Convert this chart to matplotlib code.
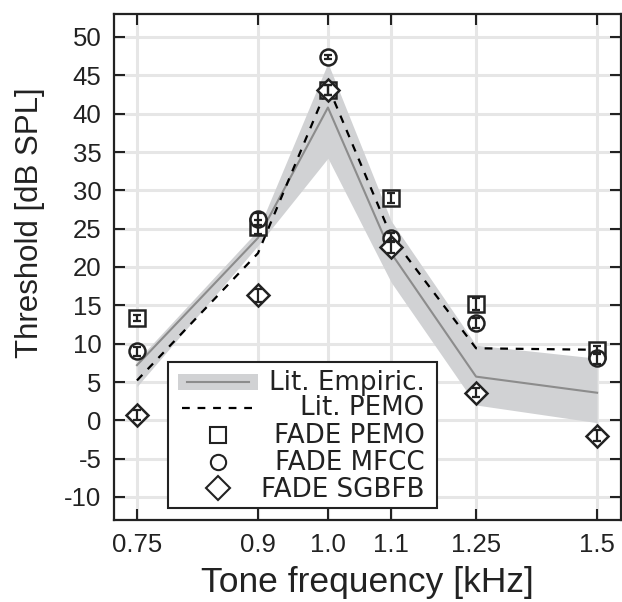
import matplotlib
matplotlib.use("Agg")
import matplotlib.pyplot as plt
from matplotlib.lines import Line2D
from matplotlib.patches import Rectangle
from matplotlib.ticker import FixedLocator, NullLocator, FixedFormatter

freqs = [0.75, 0.9, 1.0, 1.1, 1.25, 1.5]
freq_labels = ["0.75", "0.9", "1.0", "1.1", "1.25", "1.5"]

emp_mean = [7.2, 23.8, 40.8, 21.8, 5.7, 3.6]
emp_upper = [7.8, 24.8, 46.6, 26.0, 9.8, 8.1]
emp_lower = [4.4, 22.8, 34.2, 18.0, 2.0, -0.3]

pemo_lit = [5.2, 21.8, 43.6, 24.0, 9.4, 9.2]

fade_pemo = [13.3, 25.2, 43.1, 29.0, 15.2, 9.2]
fade_pemo_err = [0.4, 0.9, 0.6, 0.6, 0.8, 0.5]
fade_mfcc = [9.0, 26.3, 47.4, 23.8, 12.7, 8.1]
fade_mfcc_err = [0.6, 0.8, 0.3, 0.6, 0.6, 0.7]
fade_sgbfb = [0.7, 16.3, 43.1, 22.6, 3.6, -2.0]
fade_sgbfb_err = [0.6, 0.8, 0.7, 0.8, 0.6, 0.7]

legend_labels = ["Lit. Empiric.", "Lit. PEMO", "FADE PEMO", "FADE MFCC", "FADE SGBFB"]

y_ticks = list(range(-10, 51, 5))

INK = "#222222"
band_col = "#d1d2d4"
mean_col = "#8c8c8c"

fig = plt.figure(figsize=(6.22, 6.02), dpi=100)
ax = fig.add_axes([114/622, 1-520/602, 507/622, 506/602])

ax.fill_between(freqs, emp_lower, emp_upper, color=band_col, lw=0, zorder=2)
ax.plot(freqs, emp_mean, color=mean_col, lw=1.5, zorder=3)
ax.plot(freqs, pemo_lit, color="black", lw=1.6, ls=(0, (3.5, 3.5)), zorder=4)

mk = dict(ls="none", mfc="white", mec=INK, mew=1.8, zorder=5)
eb = dict(fmt="none", ecolor=INK, elinewidth=1.6, capsize=3, capthick=1.6, zorder=6)
ax.plot(freqs, fade_pemo, marker="s", ms=11, **mk)
ax.errorbar(freqs, fade_pemo, yerr=fade_pemo_err, **eb)
ax.plot(freqs, fade_mfcc, marker="o", ms=11.5, **mk)
ax.errorbar(freqs, fade_mfcc, yerr=fade_mfcc_err, **eb)
ax.plot(freqs, fade_sgbfb, marker="D", ms=11.5, **mk)
ax.errorbar(freqs, fade_sgbfb, yerr=fade_sgbfb_err, **eb)

ax.set_xscale("log")
ax.set_xlim(0.7245, 1.555)
ax.set_ylim(-13, 53)
ax.xaxis.set_major_locator(FixedLocator(freqs))
ax.xaxis.set_major_formatter(FixedFormatter(freq_labels))
ax.xaxis.set_minor_locator(NullLocator())
ax.set_yticks(y_ticks)
ax.set_yticklabels([str(v) for v in y_ticks])

ax.grid(True, color="#e6e6e6", lw=2.2, zorder=0)
ax.set_axisbelow(True)
for s in ax.spines.values():
    s.set_linewidth(1.6)
    s.set_color(INK)
ax.tick_params(direction="in", length=8, width=1.5, top=True, right=True,
               labelsize=18.5, colors=INK)
ax.tick_params(axis="x", pad=9)
ax.tick_params(axis="y", pad=9)
for lab in ax.get_xticklabels() + ax.get_yticklabels():
    lab.set_fontfamily("Liberation Sans")
    lab.set_color(INK)

ax.set_xlabel("Tone frequency [kHz]", fontsize=25.5, family="Liberation Sans",
              color=INK, labelpad=6.5)
ax.set_ylabel("Threshold [dB SPL]", fontsize=22.5, family="Liberation Sans",
              color=INK)
ax.yaxis.set_label_coords(-0.136, 0.587)

# --- legend (drawn manually to get right-aligned labels) ---
T = ax.transAxes
ax.add_patch(Rectangle((0.1063, 0.0237), 0.5315, 0.2885, transform=T,
                       facecolor="white", edgecolor=INK, lw=1.5, zorder=10,
                       clip_on=False))
hx0, hx1, hxc = (178-114)/508, (258-114)/508, (218-114)/508
ax.add_line(Line2D([hx0, hx1], [0.273, 0.273], transform=T, color=band_col,
                   lw=11.5, solid_capstyle="butt", zorder=11))
ax.add_line(Line2D([hx0 + 0.018, hx1 - 0.018], [0.273, 0.273], transform=T,
                   color=mean_col, lw=1.5, zorder=12))
ax.add_line(Line2D([(182-114)/508, (256-114)/508], [0.221, 0.221], transform=T,
                   color="black", lw=1.6, ls=(0, (3.5, 3.5)), zorder=11))
lm = dict(transform=T, ls="none", mfc="white", mec=INK, mew=1.5, zorder=11)
ax.add_line(Line2D([hxc], [0.168], marker="s", ms=11, **lm))
ax.add_line(Line2D([hxc], [0.1146], marker="o", ms=11, **lm))
ax.add_line(Line2D([hxc], [0.063], marker="D", ms=12, **lm))
baselines = [0.257, 0.208, 0.152, 0.0988, 0.0455]
for lab, yb in zip(legend_labels, baselines):
    ax.text(0.6122, yb, lab, transform=T, ha="right", va="baseline",
            family="DejaVu Sans", fontsize=18.8, color=INK, zorder=12)

fig.savefig("out.png", dpi=100)
